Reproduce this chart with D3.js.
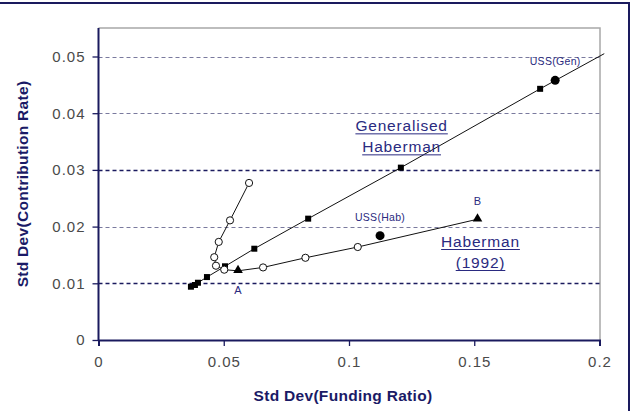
<!DOCTYPE html>
<meta charset="utf-8">
<script src="https://d3js.org/d3.v7.min.js"></script>
<style>
body { margin:0; background:#fff; }
svg { font-family: "Liberation Sans", Arial, sans-serif; }
.tick text { fill:#4a4a4a; font-size:15px; letter-spacing:1px; }
.axTitle { fill:#1a1a66; font-size:15.5px; font-weight:bold; letter-spacing:0.3px; }
.note { fill:#2a2a80; }
</style>
<body></body>
<script>

// Generalised Haberman (filled squares)
var genX = [0.0369, 0.0385, 0.0397, 0.0433, 0.0505, 0.0622, 0.0837, 0.1207, 0.1763];
var genY = [0.0094, 0.0097, 0.0101, 0.0111, 0.0130, 0.0161, 0.0214, 0.0304, 0.0443];
// end of the fitted line (runs past the plot edge)
var genEndX = 0.2019, genEndY = 0.0505;

// Haberman (1992): open circles, with triangles A and B
var habX = [0.0601, 0.0525, 0.0480, 0.0462, 0.0469, 0.0502, 0.0557, 0.0657, 0.0826, 0.1035, 0.1513];
var habY = [0.0277, 0.0211, 0.0173, 0.0146, 0.0131, 0.0124, 0.0122, 0.0128, 0.0145, 0.0164, 0.0213];
var habKind = ["o", "o", "o", "o", "o", "o", "A", "o", "o", "o", "B"];

// USS points
var ussLabels = ["USS(Gen)", "USS(Hab)"];
var ussX = [0.1823, 0.1124];
var ussY = [0.0458, 0.0184];

var xTicks = [0, 0.05, 0.1, 0.15, 0.2];
var yTicks = [0, 0.01, 0.02, 0.03, 0.04, 0.05];
var darkGrid = [0.01, 0.03];

var W = 634, H = 411;
var margin = {top: 28, right: 34, bottom: 71, left: 98.5};
var width = W - margin.left - margin.right;
var height = H - margin.top - margin.bottom;

var svg = d3.select("body").append("svg")
    .attr("width", W)
    .attr("height", H);

// outer frame
svg.append("rect")
  .attr("x", -2).attr("y", 3).attr("width", 631).attr("height", 410)
  .attr("fill", "none").attr("stroke", "#1a1a5e").attr("stroke-width", 2);

var g = svg.append("g")
    .attr("transform", "translate(" + margin.left + "," + margin.top + ")");

var xScale = d3.scaleLinear().domain([0, 0.2]).range([0, 501]);
var yScale = d3.scaleLinear().domain([0, 0.05]).range([312, 28.5]);
var yTop = yScale(0.05) - 28.5; // top of plot area

// plot area border (grey top/right)
g.append("path")
  .attr("d", "M0," + yTop + "H" + width + "V" + yScale(0))
  .attr("fill", "none").attr("stroke", "#a8a8a8").attr("stroke-width", 1.5);

// gridlines
g.selectAll(".grid").data(yTicks.slice(1)).enter().append("line")
  .attr("x1", 0).attr("x2", xScale(0.2))
  .attr("y1", function(d) { return Math.round(yScale(d)) + 0.5; })
  .attr("y2", function(d) { return Math.round(yScale(d)) + 0.5; })
  .attr("stroke", function(d) { return darkGrid.indexOf(d) >= 0 ? "#1a1a5e" : "#7a7a9e"; })
  .attr("stroke-width", function(d) { return darkGrid.indexOf(d) >= 0 ? 1.4 : 1; })
  .attr("stroke-dasharray", "4,3");

// axes
var xAxis = d3.axisBottom(xScale).tickValues(xTicks).tickSize(6).tickPadding(10)
  .tickFormat(d3.format("~g"));
var yAxis = d3.axisLeft(yScale).tickValues(yTicks).tickSize(6).tickPadding(7)
  .tickFormat(d3.format("~g"));

var xg = g.append("g").attr("transform", "translate(0," + yScale(0) + ")").call(xAxis);
var yg = g.append("g").call(yAxis);
[xg, yg].forEach(function(a) {
  a.select(".domain").attr("stroke", "#1a1a5e").attr("stroke-width", 2);
  a.selectAll(".tick line").attr("stroke", "#1a1a5e").attr("stroke-width", 1.3);
  a.selectAll(".tick text").attr("font-family", "Liberation Sans, Arial");
});
yg.select(".domain").attr("d", "M0," + yTop + "V" + yScale(0));

// axis titles
svg.append("text").attr("class", "axTitle")
  .attr("x", 343).attr("y", 401).attr("text-anchor", "middle")
  .text("Std Dev(Funding Ratio)");
svg.append("text").attr("class", "axTitle")
  .attr("transform", "translate(28,184) rotate(-90)").attr("text-anchor", "middle")
  .text("Std Dev(Contribution Rate)");

// lines
var line = d3.line().x(function(d) { return xScale(d[0]); }).y(function(d) { return yScale(d[1]); });

var genPts = genX.map(function(x, i) { return [x, genY[i]]; });
g.append("path")
  .attr("d", line(genPts.concat([[genEndX, genEndY]])))
  .attr("fill", "none").attr("stroke", "#111").attr("stroke-width", 1);

var habPts = habX.map(function(x, i) { return [x, habY[i], habKind[i]]; });
g.append("path")
  .attr("d", line(habPts))
  .attr("fill", "none").attr("stroke", "#111").attr("stroke-width", 1);

// markers
g.selectAll(".sq").data(genPts).enter().append("rect")
  .attr("x", function(d) { return xScale(d[0]) - 3; })
  .attr("y", function(d) { return yScale(d[1]) - 3; })
  .attr("width", 6).attr("height", 6).attr("fill", "#000");

g.selectAll(".oc").data(habPts.filter(function(d) { return d[2] == "o"; })).enter().append("circle")
  .attr("cx", function(d) { return xScale(d[0]); })
  .attr("cy", function(d) { return yScale(d[1]); })
  .attr("r", 3.6).attr("fill", "#fff").attr("stroke", "#111").attr("stroke-width", 1);

var tri = habPts.filter(function(d) { return d[2] != "o"; });
g.selectAll(".tri").data(tri).enter().append("path")
  .attr("d", d3.symbol().type(d3.symbolTriangle).size(40))
  .attr("transform", function(d) { return "translate(" + xScale(d[0]) + "," + (yScale(d[1]) - 0.5) + ")"; })
  .attr("fill", "#000");
g.selectAll(".triLab").data(tri).enter().append("text")
  .attr("class", "note")
  .attr("x", function(d) { return xScale(d[0]); })
  .attr("y", function(d) { return d[2] == "A" ? yScale(d[1]) + 23 : yScale(d[1]) - 14; })
  .attr("text-anchor", "middle").attr("font-size", 11)
  .text(function(d) { return d[2]; });

g.selectAll(".uss").data(ussX).enter().append("circle")
  .attr("cx", function(d) { return xScale(d); })
  .attr("cy", function(d, i) { return yScale(ussY[i]); })
  .attr("r", 4.5).attr("fill", "#000");
g.selectAll(".ussLab").data(ussX).enter().append("text")
  .attr("class", "note")
  .attr("x", function(d) { return xScale(d); })
  .attr("y", function(d, i) { return yScale(ussY[i]) - 15; })
  .attr("text-anchor", "middle").attr("font-size", 10.5).attr("letter-spacing", 0.3)
  .text(function(d, i) { return ussLabels[i]; });

// series labels (underlined)
function seriesLabel(lines, x, y) {
  lines.forEach(function(t, i) {
    var tx = g.append("text").attr("class", "note")
      .attr("x", x).attr("y", y + i * 21)
      .attr("text-anchor", "middle").attr("font-size", 15.5).attr("letter-spacing", 0.8)
      .text(t);
    var bb = tx.node().getBBox();
    g.append("line")
      .attr("x1", bb.x).attr("x2", bb.x + bb.width)
      .attr("y1", y + i * 21 + 2.5).attr("y2", y + i * 21 + 2.5)
      .attr("stroke", "#2a2a80").attr("stroke-width", 1);
  });
}
seriesLabel(["Generalised", "Haberman"], xScale(0.121), yScale(0.0368));
seriesLabel(["Haberman", "(1992)"], xScale(0.1525), yScale(0.0164));

</script>
